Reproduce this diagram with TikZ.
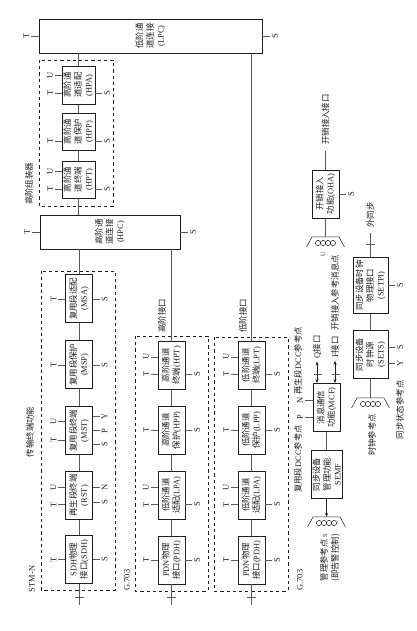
\documentclass[tikz,border=0pt]{standalone}
\usepackage{fontspec}
\setmainfont{Liberation Serif}
\newfontfamily\cjk{Noto Sans CJK SC}
\usepackage{xcolor}
\usepackage{tikz}
\usetikzlibrary{arrows.meta, positioning}
\definecolor{inkdark}{HTML}{1E1E1E}
\definecolor{wiregray}{HTML}{5A5A5A}
\newcommand{\lat}[1]{{\rmfamily #1}}
\tikzset{
    fnblock/.style={
        rectangle, draw=inkdark, line width=0.9pt, inner sep=0pt,
        minimum width=48pt, minimum height=27pt,
        font=\cjk\fontsize{8.4}{10.5}\selectfont, text=inkdark, align=center
    },
    tierbox/.style={
        rectangle, draw=inkdark, line width=0.8pt, dash pattern=on 3.2pt off 3pt,
        minimum width=#1
    },
    reflab/.style={
        font=\cjk\fontsize{8.4}{11}\selectfont, text=inkdark, align=center, inner sep=0pt
    },
    pinlab/.style={
        font=\fontsize{8.5}{10}\selectfont, text=inkdark, inner sep=1.5pt
    },
    wire/.style={line width=0.6pt, color=wiregray},
    stub/.style={line width=0.5pt, color=wiregray},
    dataarrow/.style={-{Stealth[length=4pt]}, line width=0.6pt, color=inkdark},
    duplexarrow/.style={{Stealth[length=4pt]}-{Stealth[length=4pt]}, line width=0.6pt, color=inkdark},
    refpoint/.pic={
        \draw[stub, color=inkdark] (-10,19) -- (0,13.5) -- (0,-13.5) -- (-10,-19);
        \foreach \k in {-7.5,-2.5,2.5,7.5}
            \draw[line width=0.5pt, color=inkdark] (-6,\k) circle (2.6);
    },
}
\begin{document}
\begin{tikzpicture}[rotate=90, transform shape, x=1pt, y=1pt]
    \useasboundingbox (0,0) rectangle (631,-417);

    % connection blocks
    \node[fnblock, minimum width=34pt, minimum height=223pt] at (595,-150.5) (lpc) {低阶通\\道连接\\\lat{(LPC)}};
    \node[fnblock, minimum width=34pt, minimum height=140pt] at (399,-110) (hpc) {高阶通\\道连接\\\lat{(HPC)}};

    % higher order assembler
    \node[tierbox=146pt, minimum height=74pt] at (498,-76) (hoabox) {};
    \node[fnblock, minimum width=37pt, minimum height=33pt] at (451.5,-78.5) (hpt) {高阶通\\道终端\\\lat{(HPT)}};
    \node[fnblock, minimum width=37pt, minimum height=33pt, right=10pt of hpt] (hpp) {高阶通\\道保护\\\lat{(HPP)}};
    \node[fnblock, minimum width=38pt, minimum height=33pt, right=8pt of hpp] (hpa) {高阶通\\道适配\\\lat{(HPA)}};

    % transport terminal row
    \node[tierbox=319pt, minimum height=74pt] at (200.5,-78) (stmbox) {};
    \node[fnblock] at (71.5,-79) (sdh) {\lat{SDH}物理\\接口\lat{(SDH)}};
    \node[fnblock, right=15pt of sdh] (rst) {再生段终端\\\lat{(RST)}};
    \node[fnblock, right=16pt of rst] (mst) {复用段终端\\\lat{(MST)}};
    \node[fnblock, right=17pt of mst] (msp) {复用段保护\\\lat{(MSP)}};
    \node[fnblock, right=17pt of msp] (msa) {复用段适配\\\lat{(MSA)}};

    % higher order interface row
    \node[tierbox=255pt, minimum height=73pt] at (167.5,-171.5) (hoibox) {};
    \node[fnblock] at (71,-171.5) (pdhh) {\lat{PDN}物理\\接口\lat{(PDH)}};
    \node[fnblock, right=16pt of pdhh] (lpah) {低阶通道\\适配\lat{(LPA)}};
    \node[fnblock, right=16pt of lpah] (hpph) {高阶通道\\保护\lat{(HPP)}};
    \node[fnblock, right=16pt of hpph] (hpth) {高阶通道\\终端\lat{(HPT)}};

    % lower order interface row
    \node[tierbox=254pt, minimum height=74pt] at (167,-251) (loibox) {};
    \node[fnblock] at (71,-251.5) (pdhl) {\lat{PDN}物理\\接口\lat{(PDH)}};
    \node[fnblock, right=16pt of pdhl] (lpal) {低阶通道\\适配\lat{(LPA)}};
    \node[fnblock, right=16pt of lpal] (lppl) {低阶通道\\保护\lat{(LPP)}};
    \node[fnblock, right=16pt of lppl] (lptl) {低阶通道\\终端\lat{(LPT)}};

    % overhead and timing blocks
    \node[fnblock, minimum height=31pt] at (156.5,-326.5) (semf) {同步设备\\管理功能\\\lat{SEMF}};
    \node[fnblock, right=18pt of semf] (mcf) {消息通信\\功能\lat{(MCF)}};
    \node[fnblock] at (437,-325.5) (oha) {开销接入\\功能\lat{(OHA)}};
    \node[fnblock, minimum height=35pt] at (276.5,-370.5) (sets) {同步设备\\时钟源\\\lat{(SETS)}};
    \node[fnblock, minimum width=56pt, minimum height=35pt, right=16pt of sets] (setpi) {同步设备时钟\\物理接口\\\lat{(SETPI)}};

    % labels
    \node[reflab] at (447,-29) (hoalab) {高阶组装器};
    \node[reflab] at (199,-30) (ttflab) {传输终端功能};
    \node[reflab] at (52,-32) (stmlab) {\lat{STM-N}};
    \node[reflab] at (51,-127) (gonelab) {\lat{G.703}};
    \node[reflab] at (51,-300) (gtwolab) {\lat{G.703}};
    \node[reflab] at (315,-162) (hoilab) {高阶接口};
    \node[reflab] at (315,-243) (loilab) {低阶接口};
    \node[reflab] at (270,-298) (rsdcc) {再生段\lat{DCC}参考点};
    \node[reflab] at (172,-298) (msdcc) {复用段\lat{DCC}参考点};
    \node[reflab, outer sep=3pt] at (284,-317) (qlab) {\lat{Q}接口};
    \node[reflab, outer sep=3pt] at (284,-335) (flab) {\lat{F}接口};
    \node[reflab, outer sep=6pt] at (511.5,-325.5) (ohalab) {开销接入接口};
    \node[reflab] at (338,-335) (ohaplab) {开销接入参考消息点};
    \node[reflab, outer sep=5pt] at (416,-370.5) (extlab) {外同步};
    \node[reflab] at (196,-372) (clklab) {时钟参考点};
    \node[reflab] at (221,-400) (ssmlab) {同步状态参考点};
    \node[reflab] at (73,-330) (mgtlab) {管理参考点\,{\rmfamily\fontsize{6}{6}\selectfont S}\\(即告警控制)};
    \node[pinlab, font=\fontsize{6}{6}\selectfont] at (377,-323) (ulab) {U};

    % main signal path
    \draw[wire] (sdh.west) -- ++(-21,0) coordinate (sdhend);
    \draw[stub] (sdh.west) ++(-13,4.5) -- ++(0,-9);
    \draw[wire] (sdh) -- (rst);
    \draw[wire] (rst) -- (mst);
    \draw[wire] (mst) -- (msp);
    \draw[wire] (msp) -- (msa);
    \draw[wire] (msa.east) -- (msa.east -| hpc.west);
    \draw[wire] (hpt.west -| hpc.east) -- (hpt.west);
    \draw[wire] (hpt) -- (hpp);
    \draw[wire] (hpp) -- (hpa);
    \draw[wire] (hpa.east) -- (hpa.east -| lpc.west);
    \draw[wire] (pdhh.west) -- ++(-21,0) coordinate (pdhhend);
    \draw[stub] (pdhh.west) ++(-13,4.5) -- ++(0,-9);
    \draw[wire] (pdhh) -- (lpah);
    \draw[wire] (lpah) -- (hpph);
    \draw[wire] (hpph) -- (hpth);
    \draw[wire] (hpth.east) -- (hpth.east -| hpc.west);
    \draw[wire] (pdhl.west) -- ++(-21,0) coordinate (pdhlend);
    \draw[stub] (pdhl.west) ++(-13,4.5) -- ++(0,-9);
    \draw[wire] (pdhl) -- (lpal);
    \draw[wire] (lpal) -- (lppl);
    \draw[wire] (lppl) -- (lptl);
    \draw[wire] (lptl.east) -- (lptl.east -| lpc.west);

    % reference points
    \coordinate (semfref) at (114,-326.5);
    \coordinate (oharef) at (394,-325.5);
    \coordinate (setsref) at (233,-370.5);
    \pic at (semfref) {refpoint};
    \pic at (oharef) {refpoint};
    \pic at (setsref) {refpoint};
    \draw[dataarrow] (semf.west) -- (semfref);
    \draw[wire] (semf) -- (mcf);
    \draw[wire] (oha.west) -- (oharef);
    \draw[wire] (oha.east) -- (ohalab.west);
    \draw[wire] (sets.west) -- (setsref);
    \draw[wire] (sets) -- (setpi);
    \draw[wire] (setpi.east) -- (extlab.west);
    \draw[stub] (setpi.east) ++(13,4.5) -- ++(0,-9);
    \draw[duplexarrow] (qlab.west -| mcf.east) -- (qlab.west);
    \draw[duplexarrow] (flab.west -| mcf.east) -- (flab.west);
    \draw[stub] (mcf.east) ++(9,13) -- ++(0,-8);
    \draw[stub] (mcf.east) ++(9,-5) -- ++(0,-8);

    % T U S stubs
    \draw[stub] (lpc.north) -- ++(0,8) node[pinlab, anchor=south] (lpcT) {T};
    \draw[stub] (lpc.south) -- ++(0,-8) node[pinlab, anchor=north] (lpcS) {S};
    \draw[stub] (hpc.north) -- ++(0,8) node[pinlab, anchor=south] (hpcT) {T};
    \draw[stub] (hpc.south) -- ++(0,-8) node[pinlab, anchor=north] (hpcS) {S};
    \draw[stub] ([xshift=10pt]hpa.north) -- ++(0,7) node[pinlab, anchor=south] (hpaU) {U};
    \draw[stub] ([xshift=-8pt]hpa.north) -- ++(0,7) node[pinlab, anchor=south] (hpaT) {T};
    \draw[stub] ([xshift=-8pt]hpa.south) -- ++(0,-7) node[pinlab, anchor=north] (hpaS) {S};
    \draw[stub] ([xshift=-9.5pt]hpp.north) -- ++(0,7) node[pinlab, anchor=south] (hppT) {T};
    \draw[stub] ([xshift=-9.5pt]hpp.south) -- ++(0,-7) node[pinlab, anchor=north] (hppS) {S};
    \draw[stub] ([xshift=8.5pt]hpt.north) -- ++(0,7) node[pinlab, anchor=south] (hptU) {U};
    \draw[stub] ([xshift=-9.5pt]hpt.north) -- ++(0,7) node[pinlab, anchor=south] (hptT) {T};
    \draw[stub] ([xshift=-9.5pt]hpt.south) -- ++(0,-7) node[pinlab, anchor=north] (hptS) {S};
    \draw[stub] (msa.north) -- ++(0,7) node[pinlab, anchor=south] (msaT) {T};
    \draw[stub] (msa.south) -- ++(0,-7) node[pinlab, anchor=north] (msaS) {S};
    \draw[stub] (msp.north) -- ++(0,7) node[pinlab, anchor=south] (mspT) {T};
    \draw[stub] (msp.south) -- ++(0,-7) node[pinlab, anchor=north] (mspS) {S};
    \draw[stub] ([xshift=9.5pt]mst.north) -- ++(0,7) node[pinlab, anchor=south] (mstU) {U};
    \draw[stub] ([xshift=-9.5pt]mst.north) -- ++(0,7) node[pinlab, anchor=south] (mstT) {T};
    \draw[stub] ([xshift=-13.5pt]mst.south) -- ++(0,-7) node[pinlab, anchor=north] (mstS) {S};
    \draw[stub] (mst.south) -- ++(0,-7) node[pinlab, anchor=north] (mstP) {P};
    \draw[stub] ([xshift=14.5pt]mst.south) -- ++(0,-7) node[pinlab, anchor=north] (mstY) {Y};
    \draw[stub] ([xshift=8pt]rst.north) -- ++(0,7) node[pinlab, anchor=south] (rstU) {U};
    \draw[stub] ([xshift=-9pt]rst.north) -- ++(0,7) node[pinlab, anchor=south] (rstT) {T};
    \draw[stub] ([xshift=-7pt]rst.south) -- ++(0,-7) node[pinlab, anchor=north] (rstS) {S};
    \draw[stub] ([xshift=8pt]rst.south) -- ++(0,-7) node[pinlab, anchor=north] (rstN) {N};
    \draw[stub] (sdh.north) -- ++(0,7) node[pinlab, anchor=south] (sdhT) {T};
    \draw[stub] (sdh.south) -- ++(0,-7) node[pinlab, anchor=north] (sdhS) {S};
    \draw[stub] ([xshift=8.5pt]hpth.north) -- ++(0,7) node[pinlab, anchor=south] (hpthU) {U};
    \draw[stub] ([xshift=-8.5pt]hpth.north) -- ++(0,7) node[pinlab, anchor=south] (hpthT) {T};
    \draw[stub] ([xshift=-8.5pt]hpth.south) -- ++(0,-7) node[pinlab, anchor=north] (hpthS) {S};
    \draw[stub] (hpph.north) -- ++(0,7) node[pinlab, anchor=south] (hpphT) {T};
    \draw[stub] (hpph.south) -- ++(0,-7) node[pinlab, anchor=north] (hpphS) {S};
    \draw[stub] ([xshift=7.5pt]lpah.north) -- ++(0,7) node[pinlab, anchor=south] (lpahU) {U};
    \draw[stub] ([xshift=-9.5pt]lpah.north) -- ++(0,7) node[pinlab, anchor=south] (lpahT) {T};
    \draw[stub] ([xshift=-9.5pt]lpah.south) -- ++(0,-7) node[pinlab, anchor=north] (lpahS) {S};
    \draw[stub] (pdhh.north) -- ++(0,7) node[pinlab, anchor=south] (pdhhT) {T};
    \draw[stub] (pdhh.south) -- ++(0,-7) node[pinlab, anchor=north] (pdhhS) {S};
    \draw[stub] ([xshift=8.5pt]lptl.north) -- ++(0,7) node[pinlab, anchor=south] (lptlU) {U};
    \draw[stub] ([xshift=-8.5pt]lptl.north) -- ++(0,7) node[pinlab, anchor=south] (lptlT) {T};
    \draw[stub] ([xshift=-8.5pt]lptl.south) -- ++(0,-7) node[pinlab, anchor=north] (lptlS) {S};
    \draw[stub] (lppl.north) -- ++(0,7) node[pinlab, anchor=south] (lpplT) {T};
    \draw[stub] (lppl.south) -- ++(0,-7) node[pinlab, anchor=north] (lpplS) {S};
    \draw[stub] ([xshift=7.5pt]lpal.north) -- ++(0,7) node[pinlab, anchor=south] (lpalU) {U};
    \draw[stub] ([xshift=-9.5pt]lpal.north) -- ++(0,7) node[pinlab, anchor=south] (lpalT) {T};
    \draw[stub] ([xshift=-9.5pt]lpal.south) -- ++(0,-7) node[pinlab, anchor=north] (lpalS) {S};
    \draw[stub] (pdhl.north) -- ++(0,7) node[pinlab, anchor=south] (pdhlT) {T};
    \draw[stub] (pdhl.south) -- ++(0,-7) node[pinlab, anchor=north] (pdhlS) {S};
    \draw[stub] ([xshift=7.5pt]mcf.north) -- ++(0,8) node[pinlab, anchor=south] (mcfN) {N};
    \draw[stub] ([xshift=-9.5pt]mcf.north) -- ++(0,8) node[pinlab, anchor=south] (mcfP) {P};
    \draw[stub] (oha.south) -- ++(0,-7) node[pinlab, anchor=north] (ohaS) {S};
    \draw[stub] ([xshift=7.5pt]sets.south) -- ++(0,-7) node[pinlab, anchor=north] (setsS) {S};
    \draw[stub] ([xshift=-8.5pt]sets.south) -- ++(0,-7) node[pinlab, anchor=north] (setsY) {Y};
    \draw[stub] (setpi.south) -- ++(0,-7) node[pinlab, anchor=north] (setpiS) {S};
\end{tikzpicture}
\end{document}
